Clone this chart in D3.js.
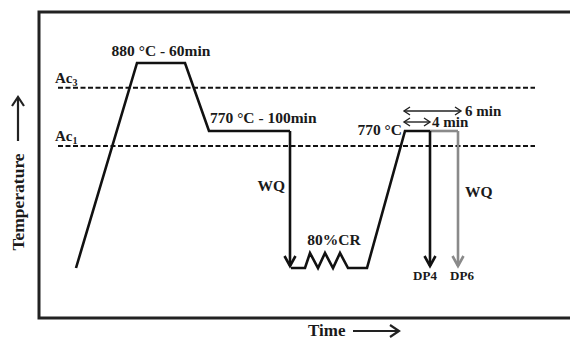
<!DOCTYPE html>
<html><head><meta charset="utf-8">
<script src="https://cdn.jsdelivr.net/npm/d3@7"></script>
<style>
html,body{margin:0;padding:0;background:#fff;}
svg text{font-family:"Liberation Serif","Times New Roman",serif;font-weight:bold;fill:#1a1a1a;}
</style></head><body>
<svg id="c" width="570" height="340"></svg>
<script>
// ---- schematic data (time in arbitrary units, temperature in °C) ----
const criticalNames = ["Ac3", "Ac1"];
const criticalTemps = [840, 700];
const criticalTimeSpan = [19, 496];

// intercritical / austenitising route up to first water quench
const route1Time = [37, 98, 146, 170, 251];
const route1Temp = [25, 880, 880, 770, 770];
const quench1Time = 251;

// cold rolling + intercritical annealing
const route2Time = [252, 266, 271, 279, 286, 294, 301, 309, 328, 366, 391];
const route2Temp = [25, 25, 108, 25, 108, 25, 108, 25, 25, 770, 770];

// DP6 extension of the hold
const dp6Time = [391, 419];
const dp6Temp = [770, 770];

const quenchLabels = ["DP4", "DP6"];
const quenchTimes = [391, 419];
const holdLabels = ["4 min", "6 min"];
const holdStart = 366;
const holdEnd = [391, 422];

const lowTemp = 25;

// ---- scales ----
const svg = d3.select("#c");
const x = d3.scaleLinear().domain([0, 531]).range([39, 570]);
const y = d3.scaleLinear().domain([25, 700, 770, 880]).range([268, 146, 131, 63]);

const black = "#111", grey = "#8a8a8a";
const line = d3.line().x((d) => x(d[0])).y((d) => y(d[1]));

// frame (left, top, bottom)
svg.append("path").attr("d", `M570,12H39V318H570`).attr("fill", "none")
  .attr("stroke", "#222").attr("stroke-width", 3);

// critical temperature lines
criticalTemps.forEach((t, i) => {
  svg.append("line").attr("x1", x(criticalTimeSpan[0])).attr("x2", x(criticalTimeSpan[1]))
    .attr("y1", y(t)).attr("y2", y(t)).attr("stroke", black).attr("stroke-width", 2)
    .attr("stroke-dasharray", "5,2.5");
  const tx = svg.append("text").attr("x", x(criticalTimeSpan[0]) - 3).attr("y", y(t) - 5)
    .attr("font-size", 15);
  tx.append("tspan").text(criticalNames[i].slice(0, 2));
  tx.append("tspan").attr("font-size", 10).attr("dy", 3).text(criticalNames[i].slice(2));
});

function path(pts, col) {
  svg.append("path").attr("d", line(pts)).attr("fill", "none").attr("stroke", col)
    .attr("stroke-width", 2.6).attr("stroke-linejoin", "miter");
}
function downArrow(t, col) {
  const xx = x(t), y0 = y(770), y1 = y(lowTemp) - 2;
  svg.append("line").attr("x1", xx).attr("x2", xx).attr("y1", y0).attr("y2", y1)
    .attr("stroke", col).attr("stroke-width", 2.6);
  svg.append("path").attr("d", `M${xx - 5.5},${y1 - 10}L${xx},${y1}L${xx + 5.5},${y1 - 10}`)
    .attr("fill", "none").attr("stroke", col).attr("stroke-width", 2.6);
}

path(route1Time.map((t, i) => [t, route1Temp[i]]), black);
downArrow(quench1Time, black);
path(route2Time.map((t, i) => [t, route2Temp[i]]), black);
path(dp6Time.map((t, i) => [t, dp6Temp[i]]), grey);
downArrow(quenchTimes[0], black);
downArrow(quenchTimes[1], grey);

// hold double arrows
function dbl(x0, x1, yy) {
  svg.append("line").attr("x1", x0).attr("x2", x1).attr("y1", yy).attr("y2", yy)
    .attr("stroke", "#222").attr("stroke-width", 1.4);
  svg.append("path").attr("d", `M${x0 + 6},${yy - 4}L${x0},${yy}L${x0 + 6},${yy + 4}M${x1 - 6},${yy - 4}L${x1},${yy}L${x1 - 6},${yy + 4}`)
    .attr("fill", "none").attr("stroke", "#222").attr("stroke-width", 1.4);
}
dbl(x(holdStart) - 1, x(holdEnd[1]), y(770) - 20);
svg.append("text").attr("x", x(holdEnd[1]) + 4).attr("y", y(770) - 15).attr("font-size", 15).text(holdLabels[1]);
dbl(x(holdStart) - 1, x(holdEnd[0]), y(770) - 9);
svg.append("text").attr("x", x(holdEnd[0]) + 2).attr("y", y(770) - 4).attr("font-size", 15).text(holdLabels[0]);

// labels
function lab(txt, xx, yy, size, anchor) {
  svg.append("text").attr("x", xx).attr("y", yy).attr("font-size", size)
    .attr("text-anchor", anchor || "start").text(txt);
}
lab("880 °C - 60min", (x(route1Time[1]) + x(route1Time[2])) / 2, y(880) - 7, 15.5, "middle");
lab("770 °C - 100min", x(route1Time[3]) + 1, y(770) - 8, 15.5);
lab("WQ", x(quench1Time) - 5, 191, 15.5, "end");
lab("80%CR", 334, 245, 15.5, "middle");
lab("770 °C", x(holdStart) - 3, y(770) + 4, 15.5, "end");
lab("WQ", 465, 197, 15.5);
quenchLabels.forEach((l, i) => lab(l, x(quenchTimes[i]) + (i ? 4 : -5), 280, 13, "middle"));

// axis titles
svg.append("text").attr("transform", "translate(24,202) rotate(-90)").attr("font-size", 17.5)
  .attr("text-anchor", "middle").text("Temperature");
svg.append("line").attr("x1", 18).attr("x2", 18).attr("y1", 141).attr("y2", 98)
  .attr("stroke", "#222").attr("stroke-width", 2.2);
svg.append("path").attr("d", "M12,106L18,97L24,106").attr("fill", "none").attr("stroke", "#222").attr("stroke-width", 2.2);

svg.append("text").attr("x", 308).attr("y", 336).attr("font-size", 17).text("Time");
svg.append("line").attr("x1", 353).attr("x2", 399).attr("y1", 331).attr("y2", 331)
  .attr("stroke", "#222").attr("stroke-width", 2.2);
svg.append("path").attr("d", "M390,325L399,331L390,337").attr("fill", "none").attr("stroke", "#222").attr("stroke-width", 2.2);
</script></body></html>
